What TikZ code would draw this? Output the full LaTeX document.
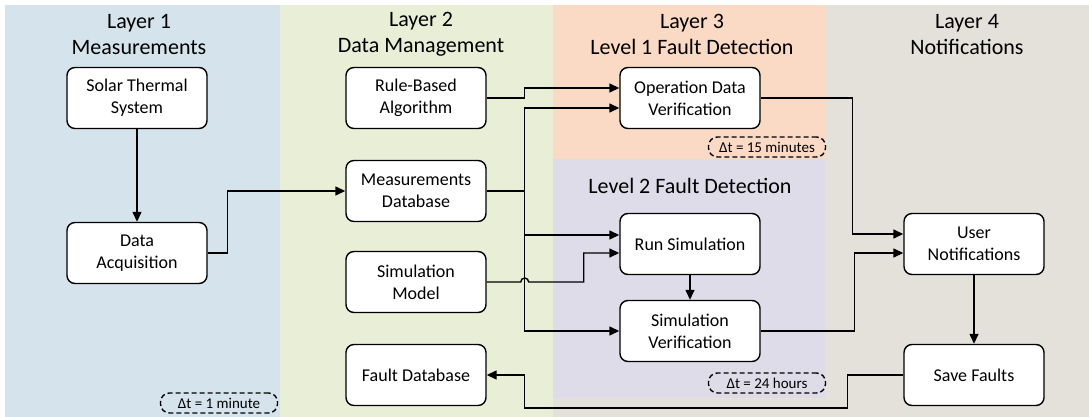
\documentclass[tikz,border=0pt]{standalone}
\usepackage{fontspec}
\setmainfont{Carlito}
\usepackage{tikz}
\usetikzlibrary{arrows.meta,positioning}
\definecolor{layerblue}{HTML}{D5E4EC}
\definecolor{layergreen}{HTML}{E9EFD7}
\definecolor{layerorange}{HTML}{FBDAC5}
\definecolor{layerpurple}{HTML}{DFDCEA}
\definecolor{layergray}{HTML}{E4E1DB}

\begin{document}
\begin{tikzpicture}[x=1pt, y=-1pt, line width=1.4pt,
  box/.style={draw, fill=white, rounded corners=8pt, minimum width=140pt,
              minimum height=61pt, align=center, font=\fontsize{18}{22}\selectfont},
  title/.style={align=center, font=\fontsize{22}{26.5}\selectfont},
  tag/.style={draw, dash pattern=on 5pt off 3pt, rounded corners=9pt, minimum width=117pt,
              minimum height=20pt, inner sep=0pt, font=\fontsize{15}{16}\selectfont},
  arr/.style={-{Triangle[length=10pt,width=9pt]}}]
  \useasboundingbox (0,0) rectangle (1089,417);
  % Layer backgrounds
  \fill[layerblue] (5,5) rectangle (280,417);
  \fill[layergreen] (280,5) rectangle (553,417);
  \fill[layergray] (553,5) rectangle (1089,417);
  \fill[layerorange] (553,5) rectangle (825,159);
  \fill[layerpurple] (553,159) rectangle (825,398);
  % Layer titles
  \node[title] (l1) at (139,34.5) {Layer 1\\Measurements};
  \node[title] (l2) at (421,34.5) {Layer 2\\Data Management};
  \node[title] (l3) at (692,34.5) {Layer 3\\Level 1 Fault Detection};
  \node[title] (l4) at (967,34.5) {Layer 4\\Notifications};
  \node[title] (lv2) at (690,186) {Level 2 Fault Detection};
  % Layer 1
  \node[box] (sts) at (137,98) {Solar Thermal\\System};
  \node[box] (da) at (137,253) {Data\\Acquisition};
  \node[tag] (t1) at (219,403) {Δt = 1 minute};
  % Layer 2
  \node[box] (rba) at (416,98) {Rule-Based\\Algorithm};
  \node[box] (md) at (416,191) {Measurements\\Database};
  \node[box] (sm) at (416,282) {Simulation\\Model};
  \node[box] (fd) at (416,375) {Fault Database};
  % Layer 3
  \node[box] (odv) at (690,98) {Operation Data\\Verification};
  \node[tag] (t15) at (767,147) {Δt = 15 minutes};
  \node[box] (rs) at (690,244) {Run Simulation};
  \node[box] (sv) at (690,331) {Simulation\\Verification};
  \node[tag] (t24) at (767,383) {Δt = 24 hours};
  % Layer 4
  \node[box] (un) at (974,244) {User\\Notifications};
  \node[box] (sf) at (974,375) {Save Faults};
  % Connectors
  \draw[arr] (sts) -- (da);
  \draw[arr] (da.east) -- ++(20,0) |- (md.west);
  \draw[arr] (rba.east) -- ++(38,0) |- ([yshift=10pt]odv.west);
  \draw (md.east) -- ++(38,0) coordinate (bus);
  \draw[arr] (bus) |- ([yshift=-10pt]odv.west);
  \draw[arr] (bus) |- ([yshift=9pt]rs.west);
  \draw[arr] (bus) |- (sv.west);
  \draw[arr] (sm.east) -- ++(34,0) arc[start angle=180, end angle=0, radius=4pt]
    -- ++(55,0) |- ([yshift=-9pt]rs.west);
  \draw[arr] (rs) -- (sv);
  \draw[arr] (odv.east) -- ++(92,0) |- ([yshift=10pt]un.west);
  \draw[arr] (sv.east) -- ++(94,0) |- ([yshift=-9pt]un.west);
  \draw[arr] (un) -- (sf);
  \draw[arr] (sf.west) -- ++(-56,0) -- ++(0,33) -| (bus |- fd.east) -- (fd.east);
\end{tikzpicture}
\end{document}
